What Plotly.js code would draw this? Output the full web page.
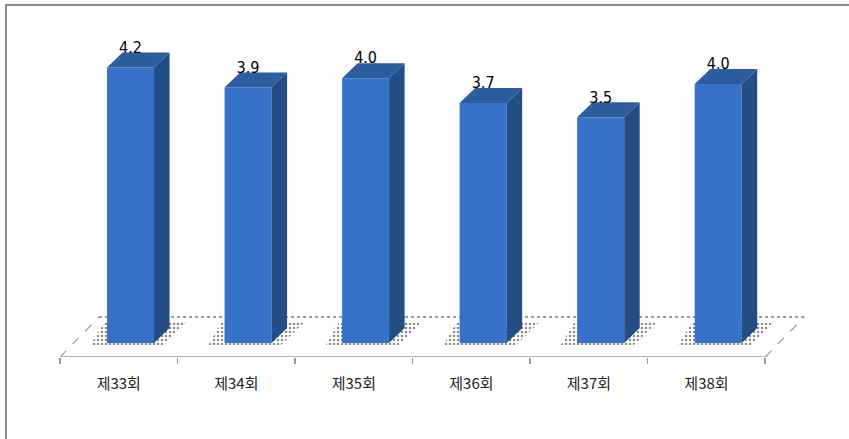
<!DOCTYPE html>
<html>
<head>
<meta charset="utf-8">
<script src="https://cdn.plot.ly/plotly-3.0.1.min.js"></script>
<style>
  html, body { margin: 0; padding: 0; background: #ffffff; }
  #chart { width: 849px; height: 439px; }
</style>
</head>
<body>
<div id="chart"></div>
<script>
// ---- data ----
const categories = ['제33회', '제34회', '제35회', '제36회', '제37회', '제38회'];
const values = [4.2, 3.92, 4.05, 3.70, 3.50, 3.97];

// ---- 3D look (layout constants, not data) ----
const BASE = 0.326;          // value of the bar foot on the floor
const FLOOR_FRONT = 0.129;   // front edge of the floor
const FLOOR_BACK = 0.692;    // back edge of the floor
const FLOOR_DX = 0.332;      // horizontal shift of the floor back edge
const BAR_OFF = 0.1;         // bar shift from the category centre
const BAR_W = 0.4;           // bar width
const DX = 0.132, DV = 0.211; // bar depth offsets

const FRONT = '#3673c8';
const TOP = '#2d5d9f';
const SIDE = '#244d85';

const n = categories.length;
const xs = categories.map((c, i) => i + BAR_OFF);

// top, side and shadow faces built from the values
const topX = [], topY = [], sideX = [], sideY = [], shX = [], shY = [];
values.forEach((v, i) => {
  const x0 = xs[i] - BAR_W / 2, x1 = xs[i] + BAR_W / 2;
  topX.push(x0, x1, x1 + DX, x0 + DX, x0, null);
  topY.push(v, v, v + DV, v + DV, v, null);
  sideX.push(x1, x1 + DX, x1 + DX, x1, x1, null);
  sideY.push(BASE, BASE + DV, v + DV, v, BASE, null);
  // soft floor shadow round the bar foot
  const b0 = BASE - 0.03, b1 = BASE + DV + 0.09;
  shX.push(x0 - 0.14, x1 + 0.08, x1 + 0.08 + (b1 - b0) * 0.62, x0 - 0.02, x0 - 0.14, null);
  shY.push(b0, b0, b1, b1, b0, null);
});

const traces = [
  {
    type: 'scatter', mode: 'lines',
    x: shX, y: shY,
    fill: 'toself', fillcolor: 'rgba(0,0,0,0)',
    fillpattern: { shape: '.', fgcolor: '#8a8a8a', bgcolor: 'rgba(0,0,0,0)', size: 4, solidity: 0.3 },
    line: { width: 0 },
    hoverinfo: 'skip', showlegend: false, zorder: -1
  },
  {
    type: 'bar',
    x: xs,
    y: values.map(v => v - BASE),
    base: BASE,
    width: BAR_W,
    marker: { color: FRONT, line: { width: 0 } },
    customdata: values,
    hovertemplate: '%{customdata:.1f}<extra></extra>',
    showlegend: false, zorder: 0
  },
  {
    type: 'scatter', mode: 'lines',
    x: sideX, y: sideY,
    fill: 'toself', fillcolor: SIDE,
    line: { width: 0, color: SIDE },
    hoverinfo: 'skip', showlegend: false, zorder: 1
  },
  {
    type: 'scatter', mode: 'lines',
    x: topX, y: topY,
    fill: 'toself', fillcolor: TOP,
    line: { width: 0, color: TOP },
    hoverinfo: 'skip', showlegend: false, zorder: 1
  },
  {
    type: 'scatter', mode: 'text',
    x: xs,
    y: values.map(v => v + DV - 0.06),
    text: values.map(v => v.toFixed(1)),
    textposition: 'top center',
    textfont: { family: 'Liberation Sans Narrow, DejaVu Sans Condensed, sans-serif', size: 16, color: '#000' },
    hoverinfo: 'skip', showlegend: false, cliponaxis: false, zorder: 2
  }
];

const boundaries = [];
for (let i = 0; i <= n; i++) boundaries.push(i - 0.5);

const shapes = [
  // floor
  {
    type: 'path', xref: 'x', yref: 'y', layer: 'below',
    path: `M ${-0.5} ${FLOOR_FRONT} L ${n - 0.5} ${FLOOR_FRONT} L ${n - 0.5 + FLOOR_DX} ${FLOOR_BACK} L ${-0.5 + FLOOR_DX} ${FLOOR_BACK} Z`,
    fillcolor: '#ffffff', line: { width: 0 }
  },
  { type: 'line', xref: 'x', yref: 'y', layer: 'below',
    x0: -0.5 + FLOOR_DX, y0: FLOOR_BACK, x1: n - 0.5 + FLOOR_DX, y1: FLOOR_BACK,
    line: { color: '#7a7a7a', width: 1.5, dash: 'dot' } },
  { type: 'line', xref: 'x', yref: 'y', layer: 'below',
    x0: -0.5, y0: FLOOR_FRONT, x1: -0.5 + FLOOR_DX, y1: FLOOR_BACK,
    line: { color: '#9a9a9a', width: 1.2, dash: 'dash' } },
  { type: 'line', xref: 'x', yref: 'y', layer: 'below',
    x0: n - 0.5, y0: FLOOR_FRONT, x1: n - 0.5 + FLOOR_DX, y1: FLOOR_BACK,
    line: { color: '#9a9a9a', width: 1.2, dash: 'dash' } },
  // floor front edge
  { type: 'line', xref: 'x', yref: 'y', layer: 'below',
    x0: -0.5, y0: FLOOR_FRONT, x1: n - 0.5, y1: FLOOR_FRONT,
    line: { color: '#9a9a9a', width: 1.5 } },
  // outer frame
  {
    type: 'rect', xref: 'paper', yref: 'paper',
    xsizemode: 'pixel', xanchor: 0, x0: -54, x1: 900,
    ysizemode: 'pixel', yanchor: 1, y0: 5, y1: -600,
    line: { color: '#8c8c8c', width: 2 }, fillcolor: 'rgba(0,0,0,0)', layer: 'above'
  }
];

const layout = {
  width: 849, height: 439,
  margin: { l: 60, r: 25, t: 10, b: 82 },
  paper_bgcolor: '#ffffff', plot_bgcolor: 'rgba(0,0,0,0)',
  showlegend: false,
  xaxis: {
    range: [-0.5, n],
    tickmode: 'array', tickvals: categories.map((c, i) => i), ticktext: categories,
    ticks: '', showgrid: false, zeroline: false, showline: false,
    minor: { tickmode: 'array', tickvals: boundaries, ticks: 'outside', ticklen: 6, tickcolor: '#9a9a9a', tickwidth: 1.5, showgrid: false },
    ticklabelstandoff: 16,
    tickfont: { family: 'Liberation Sans Narrow, Noto Sans CJK KR, sans-serif', size: 15, color: '#222' },
    fixedrange: true
  },
  yaxis: {
    range: [FLOOR_FRONT, 5.009],
    visible: false, showgrid: false, zeroline: false, fixedrange: true
  },
  shapes: shapes
};

Plotly.newPlot('chart', traces, layout, { displayModeBar: false, staticPlot: true });
</script>
</body>
</html>
